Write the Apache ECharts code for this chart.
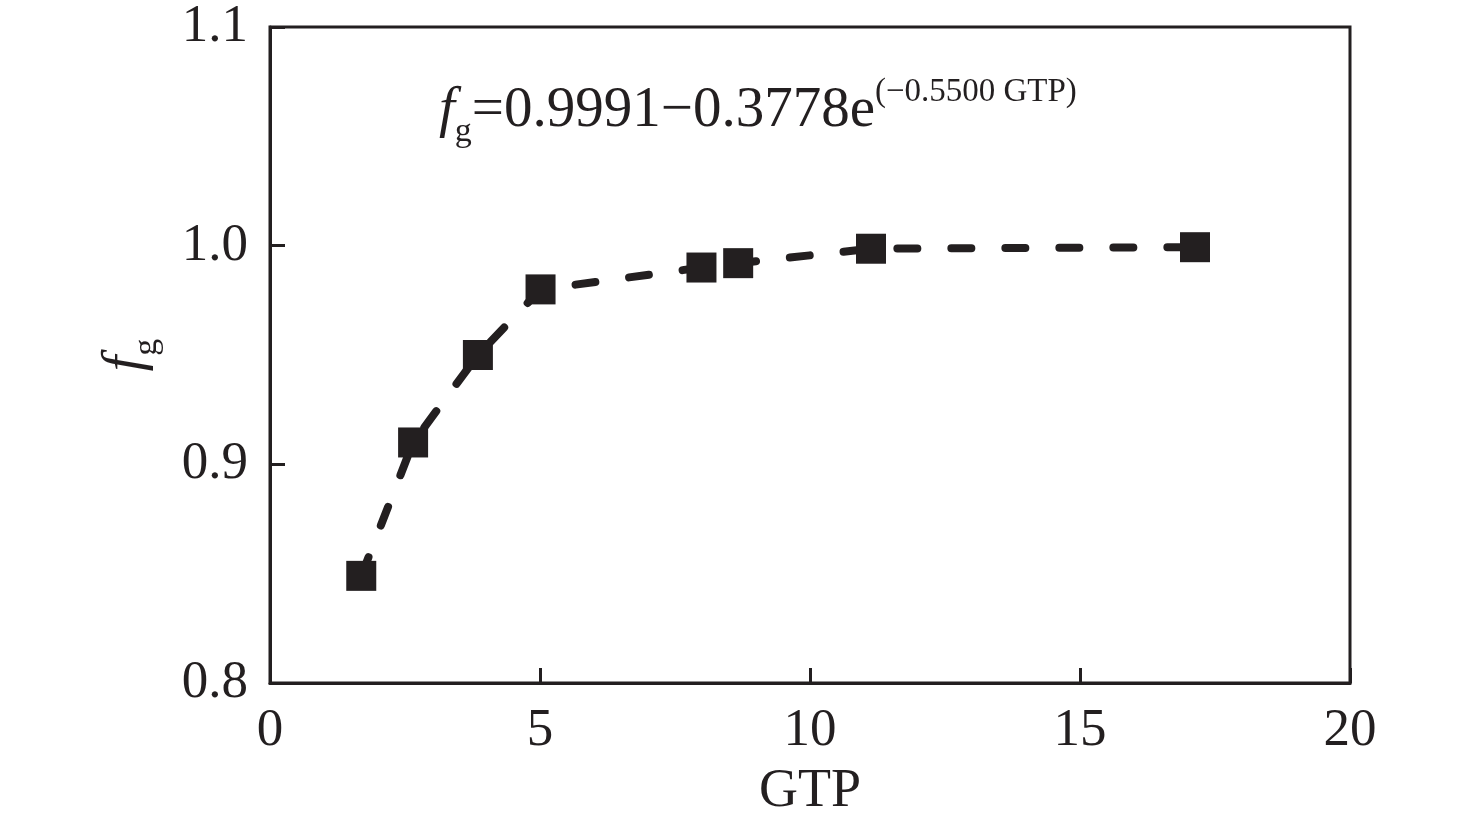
<!DOCTYPE html>
<html>
<head>
<meta charset="UTF-8">
<title>fg - GTP</title>
<script src="https://cdn.jsdelivr.net/npm/echarts@6/dist/echarts.min.js"></script>
<style>
    html, body { margin: 0; padding: 0; background: #fff; }
    #chart { width: 1476px; height: 824px; }
</style>
</head>
<body>
<div id="chart"></div>
<script type="text/javascript">
    // data
    var gtp = [1.69, 2.65, 3.85, 5.01, 7.99, 8.67, 11.13, 17.13];
    var fg = [0.849, 0.910, 0.950, 0.980, 0.990, 0.992, 0.9986, 0.9993];
    var xTicks = [0, 5, 10, 15, 20];
    var yTicks = [0.8, 0.9, 1.0, 1.1];

    var ink = '#231f20';
    var serif = '"Liberation Serif", "DejaVu Serif", serif';

    var points = gtp.map(function (x, i) { return [x, fg[i]]; });

    var myChart = echarts.init(document.getElementById('chart'));

    var option = {
        backgroundColor: '#fff',
        animation: false,
        grid: {
            left: 270,
            top: 27,
            right: 126,
            bottom: 140,
            show: true,
            borderColor: ink,
            borderWidth: 3,
            backgroundColor: 'transparent'
        },
        xAxis: {
            type: 'value',
            min: xTicks[0],
            max: xTicks[xTicks.length - 1],
            interval: 5,
            name: 'GTP',
            nameLocation: 'middle',
            nameGap: 82,
            nameTextStyle: { color: ink, fontFamily: serif, fontSize: 54 },
            axisLine: { show: true, lineStyle: { color: ink, width: 3 } },
            axisTick: { show: true, inside: true, length: 15, lineStyle: { color: ink, width: 3 } },
            axisLabel: {
                color: ink, fontFamily: serif, fontSize: 53, margin: 22,
                formatter: function (v) { return xTicks.indexOf(v) >= 0 ? String(v) : ''; }
            },
            splitLine: { show: false }
        },
        yAxis: {
            type: 'value',
            min: yTicks[0],
            max: yTicks[yTicks.length - 1],
            interval: 0.1,
            name: '{f|f}{sub|g}',
            nameLocation: 'middle',
            nameGap: 112,
            nameRotate: 90,
            nameTextStyle: {
                color: ink,
                rich: {
                    f: { fontFamily: serif, fontStyle: 'italic', fontSize: 56, color: ink, lineHeight: 60, verticalAlign: 'top' },
                    sub: { fontFamily: serif, fontSize: 34, color: ink, lineHeight: 60, verticalAlign: 'bottom', padding: [0, 0, -6, 0] }
                }
            },
            axisLine: { show: true, lineStyle: { color: ink, width: 3 } },
            axisTick: { show: true, inside: true, length: 15, lineStyle: { color: ink, width: 3 } },
            axisLabel: {
                color: ink, fontFamily: serif, fontSize: 53, margin: 22,
                formatter: function (v) { return v.toFixed(1); }
            },
            splitLine: { show: false }
        },
        graphic: [{
            type: 'text',
            left: 439,
            top: 76,
            style: {
                text: '{f|f}{sub|g}{m|=0.9991\u22120.3778e}{sup|(\u22120.5500 GTP)}',
                fill: ink,
                rich: {
                    f: { fontFamily: serif, fontStyle: 'italic', fontSize: 57, fill: ink, lineHeight: 64, verticalAlign: 'bottom' },
                    sub: { fontFamily: serif, fontSize: 34, fill: ink, lineHeight: 64, verticalAlign: 'bottom', padding: [0, 0, -9, 0] },
                    m: { fontFamily: serif, fontSize: 57, fill: ink, lineHeight: 64, verticalAlign: 'bottom' },
                    sup: { fontFamily: serif, fontSize: 33, fill: ink, lineHeight: 64, verticalAlign: 'top' }
                }
            }
        }],
        series: [{
            type: 'line',
            data: points,
            symbol: 'rect',
            symbolSize: 30,
            itemStyle: { color: ink },
            lineStyle: {
                color: ink,
                width: 8,
                type: [20, 34],
                cap: 'round'
            },
            z: 3
        }]
    };
    myChart.setOption(option);
</script>
</body>
</html>
